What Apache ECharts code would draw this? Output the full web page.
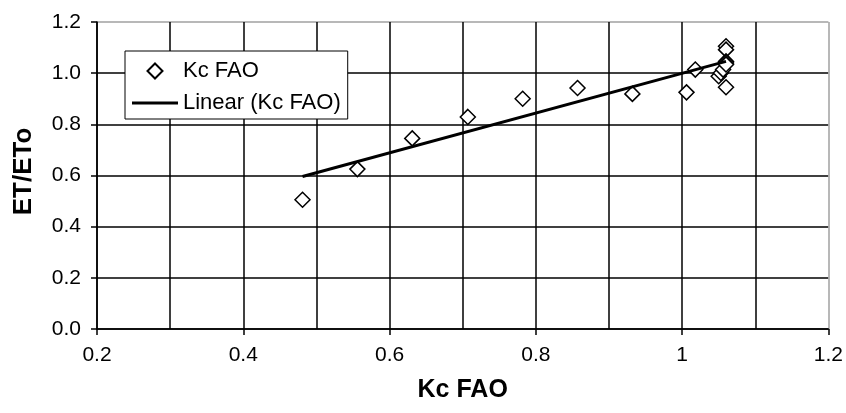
<!DOCTYPE html>
<html>
<head>
<meta charset="utf-8">
<script src="https://cdn.jsdelivr.net/npm/echarts@6/dist/echarts.min.js"></script>
<style>
  html, body { margin: 0; padding: 0; background: #fff; }
  #main { width: 846px; height: 413px; }
</style>
</head>
<body>
<div id="main"></div>
<script>
// Kc FAO (x) vs ET/ETo (y)
var kcFao = [0.481, 0.556, 0.631, 0.707, 0.782, 0.857, 0.932, 1.006, 1.018,
  1.050, 1.053, 1.056, 1.060, 1.060, 1.060, 1.060, 1.060, 1.060];
var etRatio = [0.505, 0.625, 0.745, 0.829, 0.900, 0.942, 0.919, 0.925, 1.014,
  0.988, 1.001, 1.014, 1.105, 1.092, 1.046, 1.040, 1.034, 0.945];
// end points of the linear trend line
var trendX = [0.481, 1.060];
var trendY = [0.596, 1.046];

var font = "'Liberation Sans', Arial, sans-serif";

var points = [];
for (let i = 0; i < kcFao.length; i++) {
  points.push([kcFao[i], etRatio[i]]);
}
var trend = [];
for (let i = 0; i < trendX.length; i++) {
  trend.push([trendX[i], trendY[i]]);
}

var chart = echarts.init(document.getElementById("main"));
chart.setOption({
  animation: false,
  backgroundColor: "#fff",
  textStyle: { fontFamily: font },
  grid: { left: 97, top: 22, right: 15, bottom: 84, containLabel: false },
  legend: {
    orient: "vertical",
    left: 125,
    top: 51,
    padding: [9, 7, 5, 7],
    itemGap: 10,
    itemWidth: 46,
    itemHeight: 15,
    backgroundColor: "#fff",
    borderColor: "#000",
    borderWidth: 1,
    textStyle: { fontFamily: font, fontSize: 22, color: "#000" },
    data: [
      { name: "Kc FAO", icon: "path://M0,-1L1,0L0,1L-1,0Z" },
      {
        name: "Linear (Kc FAO)",
        icon: "path://M0,0L46,0L46,3L0,3Z",
        itemStyle: { color: "#000", borderWidth: 0 }
      }
    ]
  },
  xAxis: {
    type: "value",
    min: 0.2,
    max: 1.2,
    interval: 0.2,
    name: "Kc FAO",
    nameLocation: "middle",
    nameGap: 49,
    nameTextStyle: { fontFamily: font, fontSize: 25, fontWeight: "bold", color: "#000" },
    axisLine: { show: true, onZero: false, lineStyle: { color: "#000", width: 1.5 } },
    axisTick: { show: true, length: 6, lineStyle: { color: "#000", width: 1.5 } },
    axisLabel: { fontFamily: font, fontSize: 21, color: "#000", margin: 16 },
    splitLine: {
      show: true,
      lineStyle: { color: ["#000", "#000", "#000", "#000", "#000", "#a0a0a0"], width: 1.5 }
    },
    minorTick: { show: false, splitNumber: 2 },
    minorSplitLine: { show: true, lineStyle: { color: "#000", width: 1.5 } }
  },
  yAxis: {
    type: "value",
    min: 0,
    max: 1.2,
    interval: 0.2,
    name: "ET/ETo",
    nameLocation: "middle",
    nameGap: 60,
    nameTextStyle: {
      fontFamily: font, fontSize: 26, fontWeight: "bold", color: "#000",
      padding: [0, 0, 0, 8]
    },
    axisLine: { show: true, lineStyle: { color: "#000", width: 1.5 } },
    axisTick: { show: true, length: 6, lineStyle: { color: "#000", width: 1.5 } },
    axisLabel: {
      fontFamily: font, fontSize: 21, color: "#000", margin: 16,
      formatter: function (v) { return v.toFixed(1); }
    },
    splitLine: {
      show: true,
      lineStyle: { color: ["#000", "#000", "#000", "#000", "#000", "#000", "#a0a0a0"], width: 1.5 }
    }
  },
  series: [
    {
      name: "Kc FAO",
      type: "scatter",
      symbol: "diamond",
      symbolSize: [15, 15],
      symbolKeepAspect: true,
      itemStyle: { color: "#fff", borderColor: "#000", borderWidth: 1.5, opacity: 1 },
      data: points,
      z: 3
    },
    {
      name: "Linear (Kc FAO)",
      type: "line",
      symbol: "none",
      lineStyle: { color: "#000", width: 3 },
      itemStyle: { color: "#000" },
      data: trend,
      z: 4
    }
  ]
});
</script>
</body>
</html>
